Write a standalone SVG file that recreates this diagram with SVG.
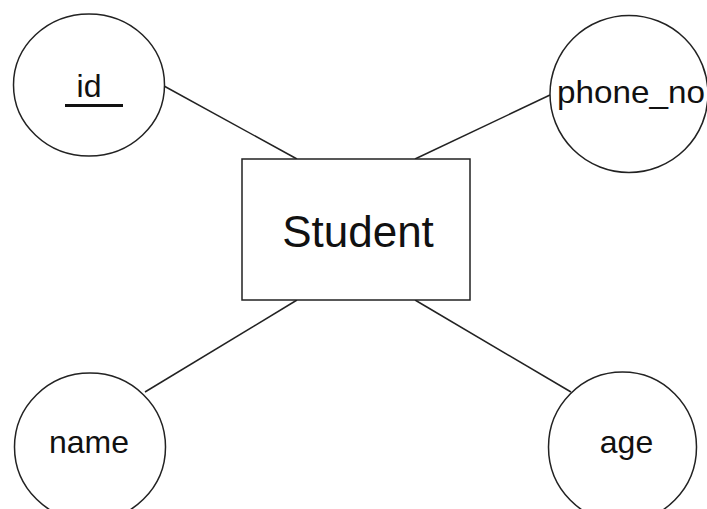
<svg xmlns="http://www.w3.org/2000/svg" width="707" height="509" viewBox="0 0 707 509">
<style>
.shape{fill:#fff;stroke:#222;stroke-width:1.5}
.edge{stroke:#222;stroke-width:1.5;fill:none}
.lbl{font-family:"Liberation Sans",Arial,sans-serif;font-size:32px;fill:#111}
</style>
<rect x="0" y="0" width="707" height="509" fill="#fff"/>
<g id="connectors">
<line class="edge" x1="164" y1="86" x2="297" y2="159"/>
<line class="edge" x1="550" y1="95" x2="415" y2="159"/>
<line class="edge" x1="145" y1="392" x2="297" y2="300"/>
<line class="edge" x1="571" y1="392" x2="415" y2="300"/>
</g>
<g id="student">
<rect class="shape" x="242" y="159" width="228" height="141"/>
<text class="lbl" x="358" y="247" text-anchor="middle" style="font-size:44px">Student</text>
</g>
<g id="id">
<ellipse class="shape" cx="89" cy="85" rx="75.5" ry="71"/>
<text class="lbl" x="89" y="97" text-anchor="middle">id</text>
<line x1="65" y1="105.5" x2="123" y2="105.5" stroke="#111" stroke-width="3"/>
</g>
<g id="phone_no">
<ellipse class="shape" cx="629" cy="94" rx="79" ry="78.5"/>
<text class="lbl" x="557" y="103" textLength="148" lengthAdjust="spacingAndGlyphs">phone_no</text>
</g>
<g id="name">
<ellipse class="shape" cx="90" cy="447" rx="75.5" ry="74"/>
<text class="lbl" x="89" y="453" text-anchor="middle">name</text>
</g>
<g id="age">
<ellipse class="shape" cx="622.5" cy="447" rx="74" ry="75"/>
<text class="lbl" x="626.5" y="453" text-anchor="middle">age</text>
</g>
</svg>
